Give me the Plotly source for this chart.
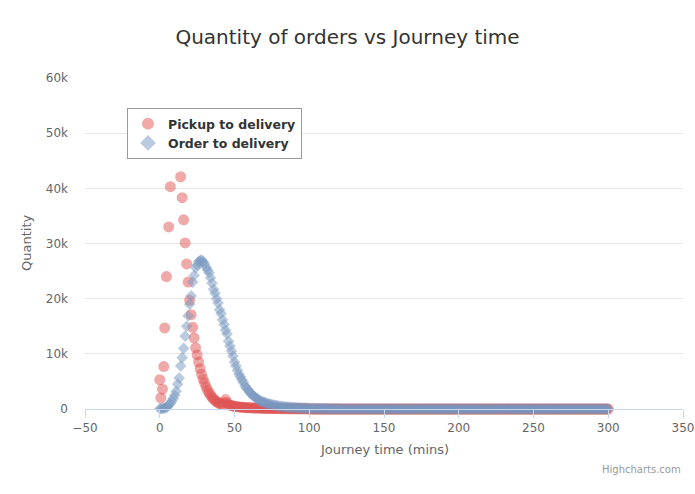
import plotly.graph_objects as go

# ---- data ----
pickup_x_early = [0, 0.7, 1.8, 2.7, 3.3, 4.5, 6, 7.1]
pickup_y_early = [5300, 2000, 3600, 7700, 14700, 24000, 33000, 40300]

pickup_x_main = list(range(14, 301))
pickup_y_head = [
    42100, 38300, 34300, 30100, 26300, 23000, 19700, 17100, 14800, 12900,  # 14-23
    11100, 9800, 8500, 7300, 6300, 5400, 4700, 4000, 3400, 2900,          # 24-33
    2500, 2100, 1800, 1550, 1350, 1150, 1000, 900, 850, 1200,             # 34-43
    1700, 1200, 800, 700, 620, 560, 500, 450, 410, 380,                   # 44-53
    350, 320, 300, 280, 260, 240, 220, 210, 200, 190,                     # 54-63
    180, 170, 160, 150, 140, 130, 120, 115, 110, 105,                     # 64-73
    100, 95, 90, 85, 80, 75, 70, 65, 60, 58,                              # 74-83
    55, 52, 50, 48, 45, 42, 40, 38, 36, 34,                               # 84-93
    32, 30, 28, 26, 24, 22, 20,                                           # 94-100
]
pickup_y_main = pickup_y_head + [0] * (len(pickup_x_main) - len(pickup_y_head))

pickup_x = pickup_x_early + pickup_x_main
pickup_y = pickup_y_early + pickup_y_main

order_x = list(range(0, 301))
order_y_head = [
    50, 50, 100, 150, 200, 400, 700, 1000, 1400, 1900,                    # 0-9
    2500, 3200, 4500, 5600, 7800, 9300, 11000, 13200, 15000, 16900,       # 10-19
    19000, 20500, 23000, 24200, 25600, 26100, 26700, 26900, 27000, 26700, # 20-29
    26300, 25700, 25200, 24700, 23800, 22800, 21700, 21000, 20000, 19200, # 30-39
    18000, 17300, 16200, 15300, 14300, 13600, 12300, 11400, 10500, 9600,  # 40-49
    8500, 7800, 7000, 6300, 5800, 5300, 4800, 4200, 3800, 3500,           # 50-59
    3100, 2800, 2500, 2300, 2100, 1900, 1700, 1500, 1400, 1300,           # 60-69
    1200, 1100, 1000, 920, 850, 780, 700, 650, 600, 550,                  # 70-79
    500, 470, 440, 410, 380, 350, 330, 310, 290, 270,                     # 80-89
    250, 235, 220, 205, 190, 180, 165, 155, 145, 135,                     # 90-99
    120, 115, 105, 100, 95, 90, 85, 80, 75, 70,                           # 100-109
    60, 55, 50, 45, 40, 38, 35, 32, 30, 28, 25,                           # 110-120
]
order_y = order_y_head + [0] * (len(order_x) - len(order_y_head))

x_ticks = [-50, 0, 50, 100, 150, 200, 250, 300, 350]
y_ticks = [0, 10000, 20000, 30000, 40000, 50000, 60000]
y_tick_labels = ["0", "10k", "20k", "30k", "40k", "50k", "60k"]

FONT = "DejaVu Sans"

fig = go.Figure()
fig.add_trace(go.Scatter(
    x=pickup_x, y=pickup_y, mode="markers", name="Pickup to delivery",
    marker=dict(symbol="circle", size=11, color="rgba(223, 83, 83, 0.5)", line=dict(width=0)),
    cliponaxis=False,
))
fig.add_trace(go.Scatter(
    x=order_x, y=order_y, mode="markers", name="Order to delivery",
    marker=dict(symbol="diamond", size=9, color="rgba(119, 152, 191, 0.5)", line=dict(width=0)),
    cliponaxis=False,
))

W, H = 695, 494
L, R, T, B = 85, 12, 78, 85
pw, ph = W - L - R, H - T - B

def px(xp):
    return (xp - L) / pw

def py(yp):
    return (H - B - yp) / ph

fig.update_layout(
    width=W, height=H,
    margin=dict(l=L, r=R, t=T, b=B, autoexpand=False),
    paper_bgcolor="white", plot_bgcolor="white",
    font=dict(family=FONT, color="#666666", size=12),
    title=dict(text="Quantity of orders vs Journey time", x=0.5, xanchor="center",
               y=1 - 37 / H, yanchor="middle", yref="container",
               font=dict(family=FONT, size=20, color="#333333")),
    showlegend=True,
    legend=dict(x=px(127), y=py(108), xanchor="left", yanchor="top",
                bgcolor="white", bordercolor="#999999", borderwidth=1,
                font=dict(family=FONT, size=12.5, color="#333333", weight="bold"),
                itemsizing="constant", tracegroupgap=0),
    xaxis=dict(range=[-50, 350], tickvals=x_ticks, showgrid=False, zeroline=False,
               showline=True, linecolor="#ccd6eb", linewidth=1,
               ticks="outside", ticklen=8, tickcolor="#ccd6eb",
               tickfont=dict(size=12, color="#666666")),
    yaxis=dict(range=[0, 60000], tickvals=y_ticks, ticktext=y_tick_labels,
               showgrid=True, gridcolor="#e6e6e6", zeroline=False, showline=False,
               ticks="", ticklabelstandoff=16,
               tickfont=dict(size=12, color="#666666")),
    annotations=[
        dict(text="Journey time (mins)", x=0.5, y=py(449), xref="paper", yref="paper",
             showarrow=False, xanchor="center", yanchor="middle",
             font=dict(family=FONT, size=13, color="#666666")),
        dict(text="Quantity", x=px(26), y=py(243), xref="paper", yref="paper",
             showarrow=False, xanchor="center", yanchor="middle", textangle=-90,
             font=dict(family=FONT, size=13, color="#666666")),
        dict(text="Highcharts.com", x=1, y=py(469), xref="paper", yref="paper",
             showarrow=False, xanchor="right", yanchor="middle",
             font=dict(family=FONT, size=10, color="#999999")),
    ],
)

fig.write_html("out.html")
